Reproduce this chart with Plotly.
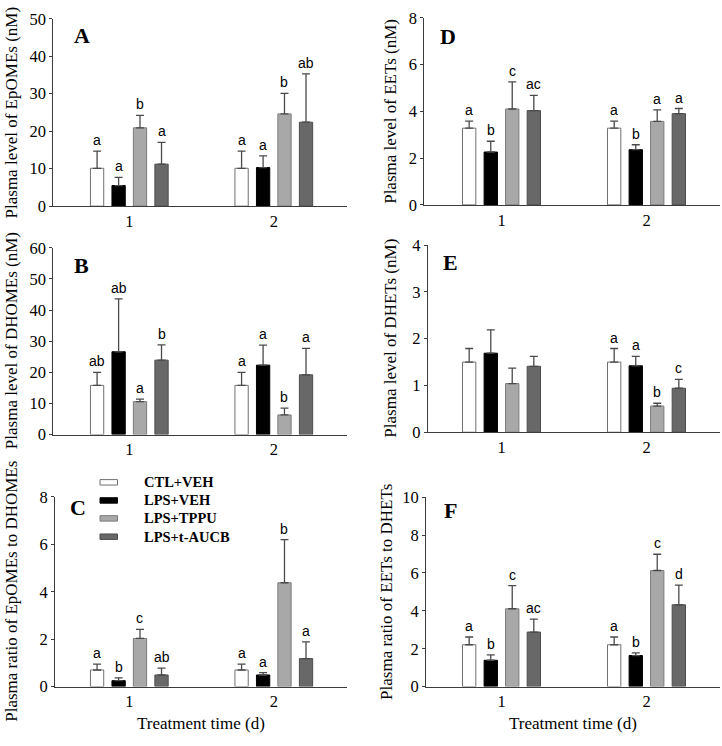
import plotly.graph_objects as go

W, H = 722, 746

# ---------------- data ----------------
categories = ["1", "2"]
groups = ["CTL+VEH", "LPS+VEH", "LPS+TPPU", "LPS+t-AUCB"]

# rows = groups, columns = treatment day
epome_mean = [[10.1, 10.1], [5.5, 10.3], [20.9, 24.6], [11.2, 22.4]]
epome_err = [[4.6, 4.6], [2.2, 3.1], [3.3, 5.5], [5.8, 12.9]]
epome_sig = [["a", "a"], ["a", "a"], ["b", "b"], ["a", "ab"]]

dhome_mean = [[15.8, 15.8], [26.6, 22.3], [10.6, 6.3], [23.9, 19.2]]
dhome_err = [[4.2, 4.2], [17.0, 6.4], [0.8, 2.2], [4.9, 8.5]]
dhome_sig = [["ab", "a"], ["ab", "a"], ["a", "b"], ["b", "a"]]

ratio_ed_mean = [[0.70, 0.70], [0.25, 0.49], [2.03, 4.38], [0.49, 1.18]]
ratio_ed_err = [[0.25, 0.25], [0.12, 0.10], [0.38, 1.82], [0.29, 0.71]]
ratio_ed_sig = [["a", "a"], ["b", "a"], ["c", "b"], ["ab", "a"]]

eet_mean = [[3.28, 3.28], [2.26, 2.36], [4.10, 3.57], [4.03, 3.90]]
eet_err = [[0.30, 0.30], [0.46, 0.21], [1.16, 0.49], [0.65, 0.22]]
eet_sig = [["a", "a"], ["b", "b"], ["c", "a"], ["ac", "a"]]

dhet_mean = [[1.50, 1.50], [1.69, 1.42], [1.04, 0.56], [1.41, 0.94]]
dhet_err = [[0.29, 0.29], [0.50, 0.20], [0.33, 0.06], [0.21, 0.19]]
dhet_sig = [["", "a"], ["", "a"], ["", "b"], ["", "c"]]

ratio_eh_mean = [[2.21, 2.21], [1.39, 1.64], [4.11, 6.13], [2.88, 4.32]]
ratio_eh_err = [[0.41, 0.41], [0.29, 0.14], [1.22, 0.86], [0.68, 1.04]]
ratio_eh_sig = [["a", "a"], ["b", "b"], ["c", "c"], ["ac", "d"]]

# ---------------- style ----------------
fills = ["#ffffff", "#000000", "#a8a8a8", "#686868"]
edges = ["#707070", "#000000", "#7c7c7c", "#4c4c4c"]
err_color = "#4a4a4a"
axis_color = "#3c3c3c"
serif = "Liberation Serif"
sans = "Liberation Sans"

bar_w = 0.092
offsets = [-0.223, -0.074, 0.074, 0.223]

# panel layout in pixels: left, right, top, bottom, group centre of day 1, spacing
panels = [
    dict(letter="A", title="Plasma level of EpOMEs (nM)", mean=epome_mean, err=epome_err, sig=epome_sig,
         ymax=50, dtick=10, L=53.3, R=347, T=10, B=202.3, c0=129.3, s=144.5,
         tx=11, lx=82, ly=27.5),
    dict(letter="B", title="Plasma level of DHOMEs (nM)", mean=dhome_mean, err=dhome_err, sig=dhome_sig,
         ymax=60, dtick=10, L=53.3, R=347, T=245, B=436.7, c0=129.3, s=144.5,
         tx=11, lx=81, ly=263),
    dict(letter="C", title="Plasma ratio of EpOMEs to DHOMEs", mean=ratio_ed_mean, err=ratio_ed_err, sig=ratio_ed_sig,
         ymax=8, dtick=2, L=55, R=347, T=500.7, B=695.3, c0=129.3, s=144.5,
         tx=12, lx=78, ly=512),
    dict(letter="D", title="Plasma level of EETs (nM)", mean=eet_mean, err=eet_err, sig=eet_sig,
         ymax=8, dtick=2, L=424.3, R=719.5, T=9, B=201, c0=501.5, s=145,
         tx=390.5, lx=448, ly=28),
    dict(letter="E", title="Plasma level of DHETs (nM)", mean=dhet_mean, err=dhet_err, sig=dhet_sig,
         ymax=4, dtick=1, L=427.7, R=719.5, T=242.3, B=434.3, c0=501.5, s=145,
         tx=391, lx=450, ly=260),
    dict(letter="F", title="Plasma ratio of EETs to DHETs", mean=ratio_eh_mean, err=ratio_eh_err, sig=ratio_eh_sig,
         ymax=10, dtick=2, L=426, R=719.5, T=501, B=695.3, c0=501.5, s=145,
         tx=387, lx=450, ly=515),
]

fig = go.Figure()
annotations = []
shapes = []
layout = dict(
    width=W, height=H, margin=dict(l=0, r=0, t=0, b=0),
    paper_bgcolor="white", plot_bgcolor="white", showlegend=False,
    barmode="overlay",
)

xpos = list(range(len(categories)))

for k, p in enumerate(panels):
    n = k + 1
    xa = "x" if n == 1 else f"x{n}"
    ya = "y" if n == 1 else f"y{n}"
    xkey = "xaxis" if n == 1 else f"xaxis{n}"
    ykey = "yaxis" if n == 1 else f"yaxis{n}"
    for g in range(len(groups)):
        fig.add_trace(go.Bar(
            x=xpos, y=p["mean"][g], width=bar_w, offset=offsets[g] - bar_w / 2,
            marker=dict(color=fills[g], line=dict(color=edges[g], width=1)),
            error_y=dict(type="data", array=p["err"][g], arrayminus=[0] * len(xpos),
                         symmetric=False, color=err_color, thickness=1.3, width=4),
            name=groups[g], xaxis=xa, yaxis=ya, hoverinfo="skip",
        ))
        for i in xpos:
            lab = p["sig"][g][i]
            if lab:
                annotations.append(dict(
                    x=i + offsets[g], y=p["mean"][g][i] + p["err"][g][i], xref=xa, yref=ya,
                    text=lab, showarrow=False, yanchor="bottom", yshift=1,
                    font=dict(family=sans, size=14, color="black")))
    x0 = (p["L"] - p["c0"]) / p["s"]
    x1 = (p["R"] - p["c0"]) / p["s"]
    layout[xkey] = dict(
        domain=[p["L"] / W, p["R"] / W], anchor=ya, range=[x0, x1],
        tickvals=xpos, ticktext=categories, ticks="", showline=True,
        linecolor=axis_color, linewidth=1, showgrid=False, zeroline=False,
        tickfont=dict(family=serif, size=16.5, color="black"), fixedrange=True,
    )
    layout[ykey] = dict(
        domain=[1 - p["B"] / H, 1 - p["T"] / H], anchor=xa, range=[0, p["ymax"]],
        dtick=p["dtick"], tick0=0, ticks="outside", ticklen=3, tickcolor=axis_color,
        showline=True, linecolor=axis_color, linewidth=1, showgrid=False, zeroline=False,
        tickfont=dict(family=serif, size=16.5, color="black"), fixedrange=True,
    )
    # y-axis title
    annotations.append(dict(
        x=p["tx"] / W, y=1 - (p["T"] + p["B"]) / 2 / H, xref="paper", yref="paper",
        text=p["title"], textangle=-90, showarrow=False, xanchor="center", yanchor="middle",
        font=dict(family=serif, size=17, color="black")))
    # panel letter
    annotations.append(dict(
        x=p["lx"] / W, y=1 - p["ly"] / H, xref="paper", yref="paper",
        text=f"<b>{p['letter']}</b>", showarrow=False, xanchor="center", yanchor="middle",
        font=dict(family=serif, size=22, color="black")))

# x-axis titles under the bottom panels
for cx in [201, 573]:
    annotations.append(dict(
        x=cx / W, y=1 - 733 / H, xref="paper", yref="paper", text="Treatment time (d)",
        showarrow=False, xanchor="center", yanchor="middle",
        font=dict(family=serif, size=17, color="black")))

# legend (inside panel C)
leg_rows = [485.7, 504.3, 522.7, 541.5]
for g, yy in enumerate(leg_rows):
    shapes.append(dict(
        type="rect", xref="paper", yref="paper",
        x0=100 / W, x1=117.5 / W, y0=1 - (yy + 2.8) / H, y1=1 - (yy - 2.8) / H,
        fillcolor=fills[g], line=dict(color=edges[g], width=1)))
    annotations.append(dict(
        x=141.5 / W, y=1 - yy / H, xref="paper", yref="paper", text=f"<b>{groups[g]}</b>",
        showarrow=False, xanchor="left", yanchor="middle",
        font=dict(family=serif, size=14.5, color="black")))

layout["annotations"] = annotations
layout["shapes"] = shapes
fig.update_layout(**layout)
fig.write_html(
    "out.html",
    config={"displayModeBar": False},
    post_script="document.body.style.margin='0';document.body.style.padding='0';document.body.style.overflow='hidden';",
)
